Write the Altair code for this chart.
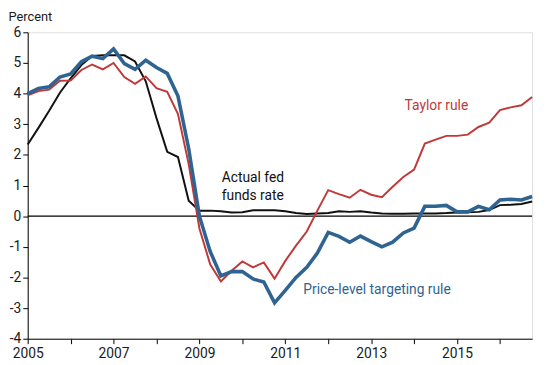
import altair as alt
import pandas as pd

# Quarterly observations, 2005Q1 .. 2016Q4
quarters = [2005 + i / 4 for i in range(48)]

fed_funds = [2.34, 2.88, 3.44, 4.03, 4.50, 4.93, 5.23, 5.25, 5.25, 5.25, 5.05, 4.40,
             3.20, 2.10, 1.93, 0.50, 0.18, 0.18, 0.16, 0.12, 0.13, 0.19, 0.19, 0.19,
             0.16, 0.10, 0.07, 0.09, 0.10, 0.16, 0.14, 0.16, 0.12, 0.09, 0.08, 0.08,
             0.09, 0.09, 0.09, 0.10, 0.12, 0.13, 0.14, 0.20, 0.36, 0.37, 0.40, 0.48]

taylor = [3.94, 4.08, 4.13, 4.42, 4.43, 4.77, 4.95, 4.79, 5.00, 4.54, 4.32, 4.56,
          4.18, 4.06, 3.33, 1.70, -0.40, -1.57, -2.13, -1.78, -1.48, -1.67, -1.51, -2.04,
          -1.46, -0.96, -0.50, 0.19, 0.85, 0.72, 0.60, 0.86, 0.70, 0.62, 0.96, 1.28,
          1.52, 2.37, 2.50, 2.62, 2.62, 2.66, 2.91, 3.05, 3.46, 3.55, 3.62, 3.89]

price_level = [4.00, 4.17, 4.22, 4.54, 4.64, 5.04, 5.22, 5.14, 5.46, 4.98, 4.79, 5.09,
               4.85, 4.66, 3.92, 2.20, 0.00, -1.15, -1.95, -1.81, -1.81, -2.05, -2.15, -2.83,
               -2.42, -2.00, -1.67, -1.20, -0.53, -0.66, -0.85, -0.65, -0.83, -1.00, -0.85, -0.55,
               -0.39, 0.32, 0.32, 0.35, 0.14, 0.14, 0.32, 0.21, 0.53, 0.55, 0.53, 0.64]

series_names = ["Actual fed funds rate", "Taylor rule", "Price-level targeting rule"]
series_colors = ["#111111", "#c0393a", "#2f6391"]
series_widths = [2.0, 2.0, 3.6]

x_ticks = list(range(2005, 2017))
y_ticks = list(range(-4, 7))

label_texts = ["Taylor rule", "Price-level targeting rule", "Actual fed", "funds rate"]
label_x = [2014.52, 2011.42, 2009.52, 2009.52]
label_y = [3.48, -2.54, 1.10, 0.54]
label_series = ["Taylor rule", "Price-level targeting rule", "Actual fed funds rate", "Actual fed funds rate"]
label_align = ["center", "left", "left", "left"]

FONT = "Roboto"

rows = []
for name, vals in zip(series_names, [fed_funds, taylor, price_level]):
    for t, v in zip(quarters, vals):
        rows.append({"t": t, "v": v, "series": name})
df = pd.DataFrame(rows)

xscale = alt.Scale(domain=[2005, 2016.75], nice=False, zero=False)
yscale = alt.Scale(domain=[-4, 6], nice=False)

x_axis = alt.Axis(values=x_ticks, tickSize=5, tickColor="#000", domainColor="#000",
                  labelExpr="datum.value % 2 == 1 ? '' + datum.value : ''",
                  labelFont=FONT, labelFontSize=14, labelColor="#1a1a1a", labelPadding=3,
                  grid=False, title=None, labelFlush=False)
y_axis = alt.Axis(values=y_ticks, tickSize=5, tickColor="#000", domainColor="#000",
                  labelExpr="'' + datum.value", labelFont=FONT, labelFontSize=14,
                  labelColor="#1a1a1a", labelPadding=2, grid=False,
                  title="Percent", titleAngle=0, titleAlign="left", titleBaseline="alphabetic",
                  titleX=-20, titleY=-12, titleFont=FONT, titleFontSize=13,
                  titleFontWeight="normal", titleColor="#1a1a1a")

zero = alt.Chart(pd.DataFrame({"y": [0]})).mark_rule(color="#000", strokeWidth=1.2).encode(
    y=alt.Y("y:Q", scale=yscale, axis=y_axis)
)

lines = []
for name, col, w in zip(series_names, series_colors, series_widths):
    lines.append(
        alt.Chart(df[df.series == name]).mark_line(color=col, strokeWidth=w, strokeJoin="miter").encode(
            x=alt.X("t:Q", scale=xscale, axis=x_axis),
            y=alt.Y("v:Q", scale=yscale, axis=y_axis),
            order="t:Q",
        )
    )

texts = []
for txt, tx, ty, s, al in zip(label_texts, label_x, label_y, label_series, label_align):
    col = series_colors[series_names.index(s)]
    texts.append(
        alt.Chart(pd.DataFrame({"t": [tx], "v": [ty], "label": [txt]})).mark_text(
            font=FONT, fontSize=14, color=col, align=al, baseline="alphabetic"
        ).encode(
            x=alt.X("t:Q", scale=xscale, axis=x_axis),
            y=alt.Y("v:Q", scale=yscale, axis=y_axis),
            text="label:N",
        )
    )

chart = alt.layer(zero, lines[0], lines[1], lines[2], *texts).properties(
    width=512, height=311,
    autosize=alt.AutoSizeParams(type="none"),
    padding={"left": 20, "top": 22, "right": 10, "bottom": 24},
).configure_view(stroke=None).configure(background="white")

chart.save("out.html", embed_options={"renderer": "svg", "actions": False})
